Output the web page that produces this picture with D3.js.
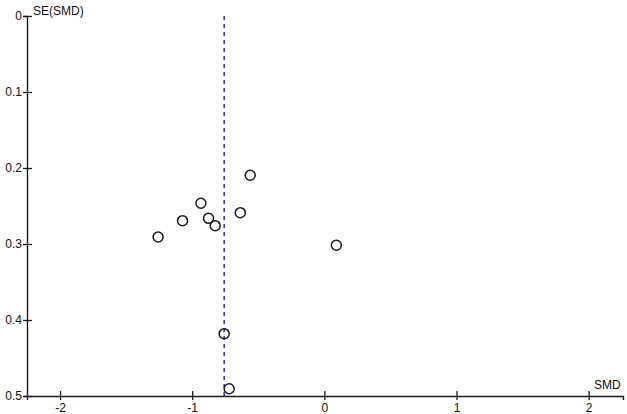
<!DOCTYPE html>
<html>
<head>
<meta charset="utf-8">
<script src="https://cdn.jsdelivr.net/npm/d3@7"></script>
<style>
  html, body { margin: 0; padding: 0; background: #fff; }
  svg { display: block; }
  text { font-family: "Liberation Sans", Arial, sans-serif; }
</style>
</head>
<body>
<svg id="chart" width="627" height="414"></svg>
<script>
// Data
const studySMD = [-0.561, -0.934, -1.073, -0.876, -0.826, -0.636, -1.258, 0.091, -0.758, -0.720];
const studySE  = [0.2096, 0.2464, 0.2693, 0.2662, 0.2759, 0.2588, 0.2908, 0.3017, 0.418, 0.4904];
const pooledSMD = -0.758;
const fixedSMD = -0.782;
const xTickValues = [-2, -1, 0, 1, 2];
const xTickLabels = ["-2", "-1", "0", "1", "2"];
const yTickValues = [0, 0.1, 0.2, 0.3, 0.4, 0.5];
const yTickLabels = ["0", "0.1", "0.2", "0.3", "0.4", "0.5"];
const xTitle = "SMD";
const yTitle = "SE(SMD)";

const svg = d3.select("#chart");
const x = d3.scaleLinear().domain([-2.25, 2.26]).range([27, 623]);
const y = d3.scaleLinear().domain([0, 0.5]).range([16, 396]);

const axisColor = "#1a1a1a";

// faint fixed-effect line
svg.append("line")
  .attr("x1", x(fixedSMD)).attr("x2", x(fixedSMD))
  .attr("y1", y(0)).attr("y2", y(0.5))
  .attr("stroke", "#efe9c4").attr("stroke-width", 1)
  .attr("stroke-dasharray", "1,3");

// pooled estimate dashed line
svg.append("line")
  .attr("x1", x(pooledSMD)).attr("x2", x(pooledSMD))
  .attr("y1", y(0)).attr("y2", y(0.5))
  .attr("stroke", "#2f2fa0").attr("stroke-width", 1.5)
  .attr("stroke-dasharray", "4,4");

// Y axis
const yAxis = d3.axisLeft(y)
  .tickValues(yTickValues)
  .tickFormat((d, i) => yTickLabels[i])
  .tickSizeOuter(0).tickSize(3).tickPadding(2);
const gy = svg.append("g").attr("transform", `translate(${x(-2.25)},0)`).call(yAxis);
gy.select(".domain").attr("stroke", axisColor).attr("stroke-width", 1.4);
gy.selectAll(".tick line").attr("x1", 5).attr("x2", -4).attr("stroke", axisColor).attr("stroke-width", 1.3);
gy.selectAll(".tick text").attr("font-size", 12).attr("fill", "#111")
  .attr("font-family", "'Liberation Sans', Arial, sans-serif");

// X axis
const xAxis = d3.axisBottom(x)
  .tickValues(xTickValues)
  .tickFormat((d, i) => xTickLabels[i])
  .tickSizeOuter(0).tickSize(4).tickPadding(3);
const gx = svg.append("g").attr("transform", `translate(0,${y(0.5)})`).call(xAxis);
gx.select(".domain").attr("stroke", axisColor).attr("stroke-width", 1.4);
gx.selectAll(".tick line").attr("y1", -5).attr("y2", 4).attr("stroke", axisColor).attr("stroke-width", 1.3);
gx.selectAll(".tick text").attr("font-size", 12).attr("fill", "#111")
  .attr("font-family", "'Liberation Sans', Arial, sans-serif");

// Titles
svg.append("text")
  .attr("x", 33).attr("y", 15)
  .attr("font-size", 12).attr("fill", "#111")
  .text(yTitle);
svg.append("text")
  .attr("x", 594).attr("y", 389)
  .attr("font-size", 12).attr("fill", "#111")
  .text(xTitle);

// Study points
svg.append("g").selectAll("circle")
  .data(studySMD.map((d, i) => ({smd: d, se: studySE[i]})))
  .join("circle")
  .attr("cx", d => x(d.smd))
  .attr("cy", d => y(d.se))
  .attr("r", 5)
  .attr("fill", "none")
  .attr("stroke", "#1a1a1a")
  .attr("stroke-width", 1.5);
</script>
</body>
</html>
